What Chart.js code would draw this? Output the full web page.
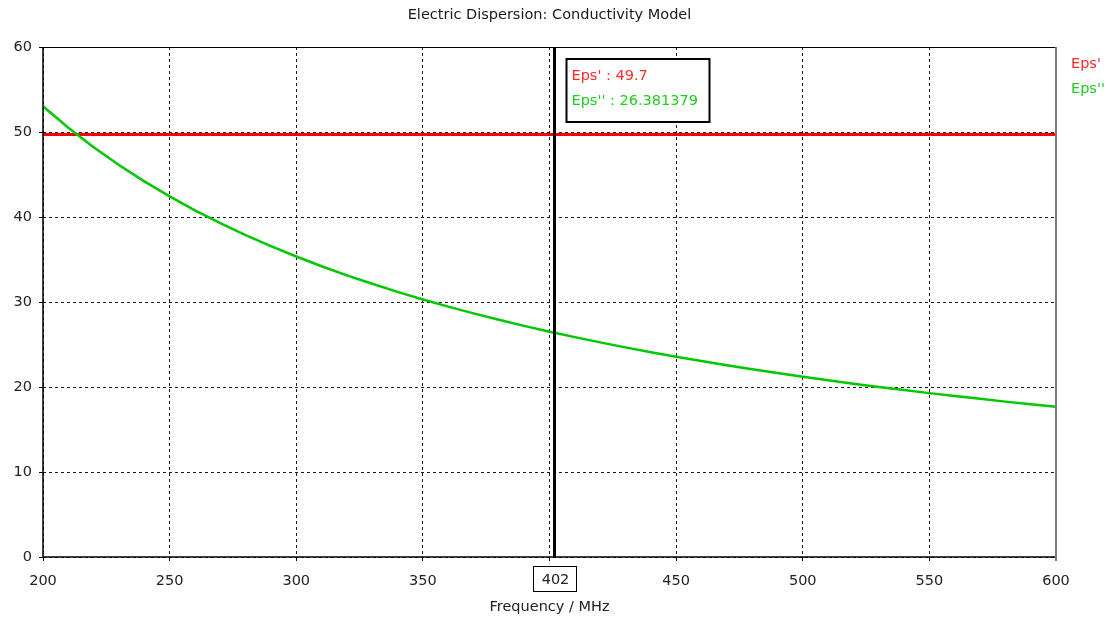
<!DOCTYPE html>
<html>
<head>
<meta charset="utf-8">
<title>Electric Dispersion: Conductivity Model</title>
<script src="https://cdn.jsdelivr.net/npm/chart.js@4.4.1/dist/chart.umd.min.js"></script>
<style>
  html, body { margin: 0; padding: 0; background: #ffffff; }
  #wrap { position: relative; width: 1109px; height: 620px; }
</style>
</head>
<body>
<div id="wrap"><canvas id="chart"></canvas></div>
<script>
// Frequency grid (MHz) and imaginary permittivity Eps'' of the conductivity model
const freqMHz = [200, 210, 220, 230, 240, 250, 260, 270, 280, 290,
                 300, 310, 320, 330, 340, 350, 360, 370, 380, 390,
                 400, 402, 410, 420, 430, 440, 450, 460, 470, 480, 490,
                 500, 510, 520, 530, 540, 550, 560, 570, 580, 590, 600];
const epsImag = [53.03, 50.50, 48.21, 46.11, 44.19, 42.42, 40.79, 39.28, 37.88, 36.57,
                 35.35, 34.21, 33.14, 32.14, 31.19, 30.30, 29.46, 28.66, 27.91, 27.19,
                 26.51, 26.381379, 25.87, 25.25, 24.66, 24.10, 23.57, 23.05, 22.56, 22.09, 21.64,
                 21.21, 20.79, 20.39, 20.01, 19.64, 19.28, 18.94, 18.61, 18.28, 17.98, 17.68];

// Real permittivity Eps' (frequency independent)
const epsRealFreq = [200, 600];
const epsReal = [49.7, 49.7];

// Marker cursor
const cursorFreq = 402;
const cursorEpsReal = 49.7;
const cursorEpsImag = 26.381379;

// Axis ticks
const xTicks = [200, 250, 300, 350, 400, 450, 500, 550, 600];
const yTicks = [0, 10, 20, 30, 40, 50, 60];

const seriesNames = ["Eps'", "Eps''"];
const titleText = 'Electric Dispersion: Conductivity Model';
const xAxisTitle = 'Frequency / MHz';

const FONT = '"DejaVu Sans", Verdana, sans-serif';
const RED = '#ff0000';
const GREEN = '#00c800';
const RED_TEXT = '#ff2a2a';
const GREEN_TEXT = '#1fcc1f';

const overlay = {
  id: 'overlay',
  afterDraw(chart) {
    const { ctx, chartArea: a, scales } = chart;
    const xs = scales.x;
    ctx.save();

    // frame: solid axes left/bottom, black top, grey right
    ctx.lineWidth = 1.5;
    ctx.strokeStyle = '#000000';
    ctx.beginPath();
    ctx.moveTo(a.left, a.top);
    ctx.lineTo(a.left, a.bottom);
    ctx.lineTo(a.right, a.bottom);
    ctx.stroke();
    ctx.lineWidth = 1;
    ctx.beginPath();
    ctx.moveTo(a.left, a.top + 0.5);
    ctx.lineTo(a.right, a.top + 0.5);
    ctx.stroke();
    ctx.lineWidth = 2;
    ctx.strokeStyle = '#7a7a7a';
    ctx.beginPath();
    ctx.moveTo(a.right, a.top);
    ctx.lineTo(a.right, a.bottom + 4);
    ctx.stroke();

    // cursor line
    const cx = Math.round(xs.getPixelForValue(cursorFreq)) - 0.5;
    ctx.lineWidth = 3;
    ctx.strokeStyle = '#000000';
    ctx.beginPath();
    ctx.moveTo(cx, a.top);
    ctx.lineTo(cx, a.bottom);
    ctx.stroke();

    // cursor value box on the axis
    ctx.font = '14.5px ' + FONT;
    ctx.textBaseline = 'middle';
    ctx.textAlign = 'center';
    const lbl = String(cursorFreq);
    const bw = 43, bh = 25;
    const bx = Math.round(cx - bw / 2) + 0.5, by = a.bottom + 9.5;
    ctx.fillStyle = '#ffffff';
    ctx.fillRect(bx, by, bw, bh);
    ctx.lineWidth = 1;
    ctx.strokeStyle = '#000000';
    ctx.strokeRect(bx, by, bw, bh);
    ctx.fillStyle = '#222222';
    ctx.fillText(lbl, cx + 1, by + bh / 2 + 1);

    // cursor readout
    const tx = cx + 12, ty = a.top + 12;
    ctx.fillStyle = '#ffffff';
    ctx.fillRect(tx, ty, 143, 63);
    ctx.lineWidth = 2;
    ctx.strokeStyle = '#000000';
    ctx.strokeRect(tx, ty, 143, 63);
    ctx.textAlign = 'left';
    ctx.fillStyle = RED_TEXT;
    ctx.fillText(seriesNames[0] + ' : ' + cursorEpsReal, tx + 5, ty + 17);
    ctx.fillStyle = GREEN_TEXT;
    ctx.fillText(seriesNames[1] + ' : ' + cursorEpsImag, tx + 5, ty + 42);

    // legend
    ctx.fillStyle = RED_TEXT;
    ctx.fillText(seriesNames[0], a.right + 15, a.top + 17);
    ctx.fillStyle = GREEN_TEXT;
    ctx.fillText(seriesNames[1], a.right + 15, a.top + 42);

    // title
    ctx.textAlign = 'center';
    ctx.fillStyle = '#1a1a1a';
    ctx.fillText(titleText, (a.left + a.right) / 2, 15);

    ctx.restore();
  }
};

new Chart(document.getElementById('chart'), {
  type: 'line',
  data: {
    datasets: [
      {
        label: seriesNames[0],
        data: epsRealFreq.map((f, i) => ({ x: f, y: epsReal[i] })),
        borderColor: RED,
        borderWidth: 3,
        pointRadius: 0,
        tension: 0,
        order: 2
      },
      {
        label: seriesNames[1],
        data: freqMHz.map((f, i) => ({ x: f, y: epsImag[i] })),
        borderColor: GREEN,
        borderWidth: 2.5,
        pointRadius: 0,
        tension: 0,
        order: 1
      }
    ]
  },
  options: {
    responsive: true,
    maintainAspectRatio: false,
    animation: false,
    events: [],
    layout: { padding: { top: 47, right: 53, left: 0, bottom: 0 } },
    plugins: {
      legend: { display: false },
      title: { display: false },
      tooltip: { enabled: false }
    },
    scales: {
      x: {
        type: 'linear',
        min: 200,
        max: 600,
        afterBuildTicks: (s) => { s.ticks = xTicks.map(v => ({ value: v })); },
        afterFit: (s) => { s.height = 63; },
        ticks: {
          autoSkip: false,
          maxRotation: 0,
          padding: 12,
          color: '#222222',
          font: { family: FONT, size: 14.5 }
        },
        grid: {
          color: '#1a1a1a',
          lineWidth: 1,
          tickLength: 4,
          tickColor: '#000000'
        },
        border: { display: false, dash: [3, 3] },
        title: {
          display: true,
          text: xAxisTitle,
          color: '#222222',
          font: { family: FONT, size: 14.5 },
          padding: { top: 0, bottom: 4 }
        }
      },
      y: {
        type: 'linear',
        min: 0,
        max: 60,
        afterBuildTicks: (s) => { s.ticks = yTicks.map(v => ({ value: v })); },
        afterFit: (s) => { s.width = 43; },
        ticks: {
          padding: 7,
          color: '#222222',
          font: { family: FONT, size: 14.5 }
        },
        grid: {
          color: '#1a1a1a',
          lineWidth: 1,
          tickLength: 4,
          tickColor: '#000000'
        },
        border: { display: false, dash: [3, 3] }
      }
    }
  },
  plugins: [overlay]
});
</script>
</body>
</html>
